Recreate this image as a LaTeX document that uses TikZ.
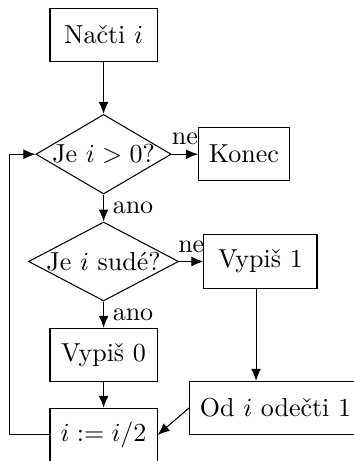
\documentclass[tikz,border=0pt]{standalone}
\usepackage{amsmath}
\usepackage{tikz}
\usetikzlibrary{shapes.geometric,arrows.meta,calc}

\begin{document}
\begin{tikzpicture}[
                block/.style={draw,rectangle,minimum height=20.5pt,inner xsep=4pt},
                wideblock/.style={block,minimum width=41.2pt},
                decision/.style={draw,diamond,inner sep=0pt},
                flow/.style={-{Latex[length=4.6pt,width=3.8pt]}}
            ]
                \useasboundingbox (0,0) rectangle (4.785,-6.232);
                \clip (0,0) rectangle (4.785,-6.232);
                \node[wideblock] (nacti) at (1.40,-0.473) {Načti $i$};
                \node[decision,aspect=1.7] (kladne) at (1.40,-2.085) {Je $i>0$?};
                \node[block] (konec) at (3.298,-2.085) {Konec};
                \node[decision,aspect=1.9] (sude) at (1.40,-3.535) {Je $i$ sudé?};
                \node[block,minimum width=43.5pt] (vypisjedna) at (3.521,-3.535) {Vypiš 1};
                \node[wideblock] (vypisnula) at (1.40,-4.799) {Vypiš 0};
                \node[wideblock] (pulka) at (1.40,-5.880) {$i:=i/2$};
                \node[block,anchor=west] (odecti) at (2.555,-5.515) {Od $i$ odečti 1};

                \draw[flow] (nacti) -- (kladne);
                \draw[flow] (kladne.east) -- node[above] {ne} (konec.west);
                \draw[flow] (kladne.south) -- node[right] {ano} (sude.north);
                \draw[flow] (sude.east) -- node[above] {ne} (vypisjedna.west);
                \draw[flow] (sude.south) -- node[right] {ano} (vypisnula.north);
                \draw[flow] (vypisnula) -- (pulka);
                \draw[flow] ([xshift=-0.06cm]vypisjedna.south) -- ([xshift=-0.06cm]vypisjedna.south |- odecti.north);
                \draw[flow] (odecti.west) -- (pulka.east);
                \draw[flow] (pulka.west) -- ++(-0.54,0) |- (kladne.west);
            \end{tikzpicture}
\end{document}
